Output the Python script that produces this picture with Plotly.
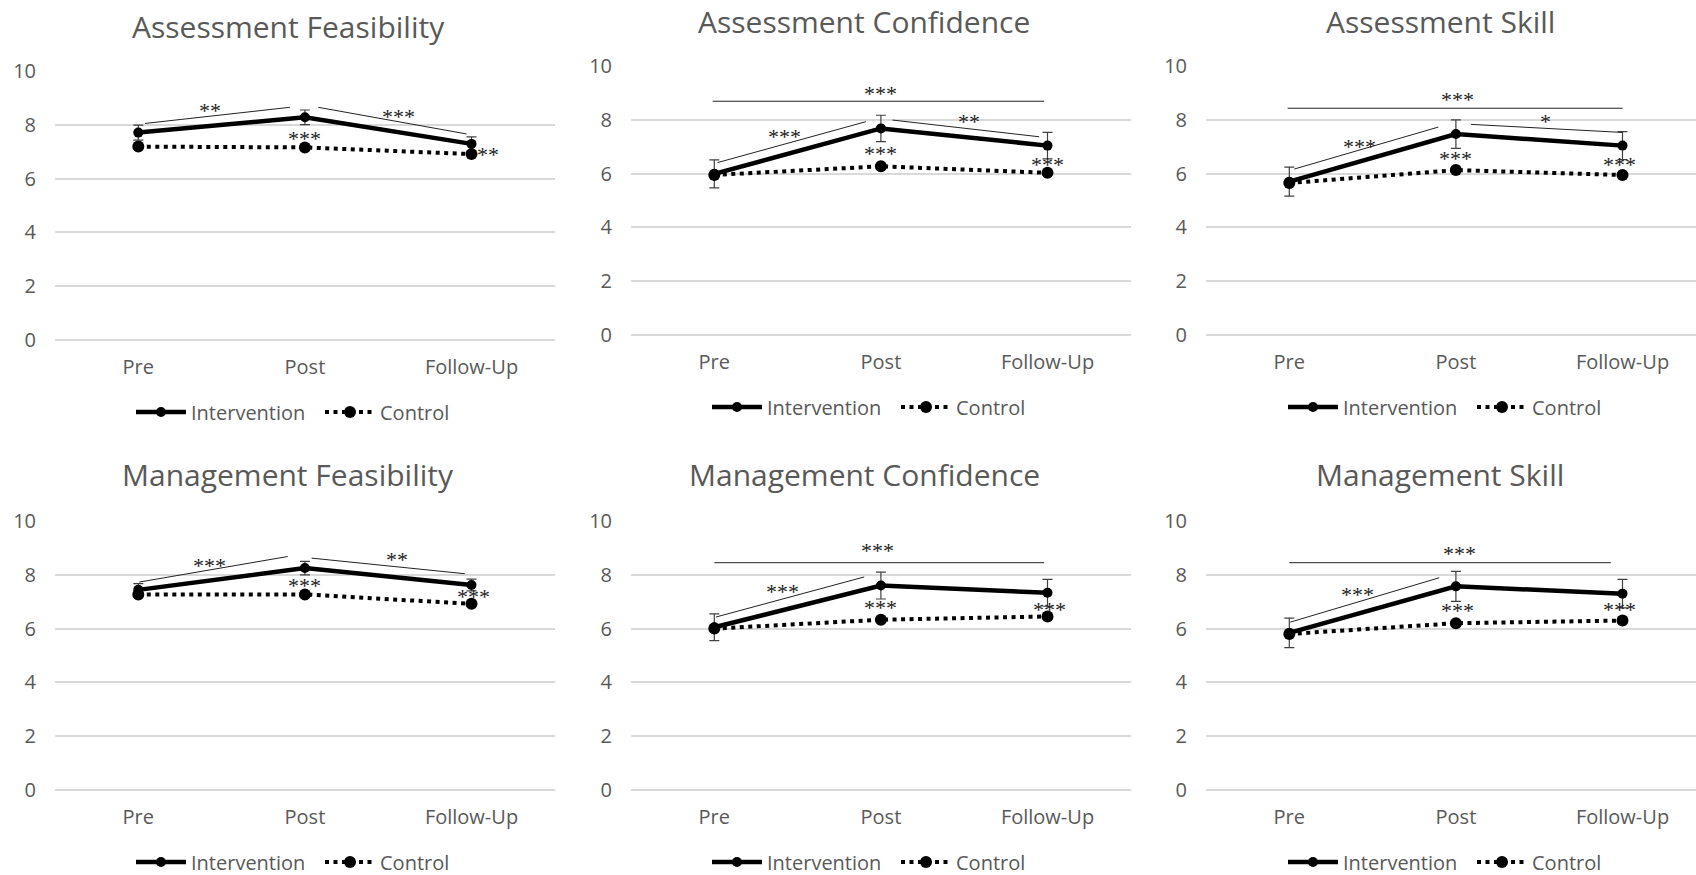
import plotly.graph_objects as go

timepoints = ["Pre", "Post", "Follow-Up"]
series_names = ["Intervention", "Control"]
titles = ["Assessment Feasibility", "Assessment Confidence", "Assessment Skill",
          "Management Feasibility", "Management Confidence", "Management Skill"]

# Group means on the 0-10 scale; intervention error bars are +/- values
af_int = [7.71, 8.28, 7.29]
af_err = [0.28, 0.27, 0.26]
af_ctl = [7.19, 7.16, 6.91]

ac_int = [5.99, 7.68, 7.04]
ac_err = [0.52, 0.49, 0.49]
ac_ctl = [5.95, 6.27, 6.03]

as_int = [5.70, 7.47, 7.04]
as_err = [0.54, 0.53, 0.52]
as_ctl = [5.65, 6.13, 5.95]

mf_int = [7.44, 8.25, 7.62]
mf_err = [0.23, 0.25, 0.22]
mf_ctl = [7.27, 7.27, 6.92]

mc_int = [6.05, 7.60, 7.33]
mc_err = [0.50, 0.50, 0.50]
mc_ctl = [6.00, 6.33, 6.45]

ms_int = [5.84, 7.57, 7.30]
ms_err = [0.55, 0.56, 0.53]
ms_ctl = [5.80, 6.20, 6.30]

# Significance connectors (x0, y0, x1, y1) in category / score units
af_links = [(0.04, 8.05, 0.91, 8.65), (1.08, 8.65, 1.97, 7.66)]
ac_links = [(-0.01, 8.69, 1.98, 8.69), (0.02, 6.41, 0.91, 7.93), (1.07, 7.99, 1.95, 7.37)]
as_links = [(-0.01, 8.43, 2.0, 8.43), (0.03, 6.17, 0.895, 7.73), (1.09, 7.83, 2.0, 7.53)]
mf_links = [(0.006, 7.73, 0.897, 8.68), (1.04, 8.62, 1.96, 8.04)]
mc_links = [(0.0, 8.45, 1.98, 8.45), (0.01, 6.43, 0.90, 7.92)]
ms_links = [(0.0, 8.45, 1.93, 8.45), (0.006, 6.24, 0.90, 7.89)]

# Significance stars (text, x, y)
af_stars = [("**", 0.43, 8.65), ("***", 1.56, 8.43), ("***", 1.0, 7.62), ("**", 2.10, 7.0)]
ac_stars = [("***", 1.0, 9.09), ("***", 0.42, 7.5), ("**", 1.53, 8.05), ("***", 1.0, 6.85), ("***", 2.0, 6.44)]
as_stars = [("***", 1.01, 8.88), ("***", 0.42, 7.13), ("*", 1.54, 8.05), ("***", 1.0, 6.67), ("***", 1.98, 6.44)]
mf_stars = [("***", 0.43, 8.47), ("**", 1.55, 8.68), ("***", 1.0, 7.73), ("***", 2.01, 7.3)]
mc_stars = [("***", 0.98, 9.0), ("***", 0.41, 7.48), ("***", 1.0, 6.9), ("***", 2.01, 6.82)]
ms_stars = [("***", 1.02, 8.91), ("***", 0.41, 7.39), ("***", 1.01, 6.8), ("***", 1.98, 6.82)]

panels = [
    (af_int, af_err, af_ctl, af_links, af_stars),
    (ac_int, ac_err, ac_ctl, ac_links, ac_stars),
    (as_int, as_err, as_ctl, as_links, as_stars),
    (mf_int, mf_err, mf_ctl, mf_links, mf_stars),
    (mc_int, mc_err, mc_ctl, mc_links, mc_stars),
    (ms_int, ms_err, ms_ctl, ms_links, ms_stars),
]

W, H = 1696, 875
FONT = "Open Sans"
GREY = "#595959"

# plot-area geometry in pixels: (left, right, y_of_0, y_of_10)
col_left = [55, 631, 1206]
row_y = [[(340, 71), (335, 66), (335, 66)], [(790, 521), (790, 521), (790, 521)]]
cat_step = 166.6
title_x = [288, 864, 1440]
title_y = [[27, 21, 21], [475, 475, 475]]
legend_left = [131, 707, 1283]
legend_y = [[412, 407, 407], [862, 862, 862]]

fig = go.Figure()
layout = dict(width=W, height=H, margin=dict(l=0, r=0, t=0, b=0, autoexpand=False),
              paper_bgcolor="white", plot_bgcolor="white",
              font=dict(family=FONT, color=GREY), showlegend=True)
annotations = []
shapes = []

for i, (iv, ie, cv, links, stars) in enumerate(panels):
    r, c = divmod(i, 3)
    n = i + 1
    xa = "x" if n == 1 else f"x{n}"
    ya = "y" if n == 1 else f"y{n}"
    lg = "legend" if n == 1 else f"legend{n}"
    left = col_left[c]
    right = min(left + 3 * cat_step, W)
    xmax = -0.5 + (right - left) / cat_step
    y0px, y10px = row_y[r][c]

    layout[f"xaxis{'' if n == 1 else n}"] = dict(
        domain=[left / W, right / W], range=[-0.5, xmax], anchor=ya,
        tickvals=[0, 1, 2], ticktext=timepoints, showgrid=False, zeroline=False,
        showline=False, ticks="", ticklabelstandoff=13,
        tickfont=dict(size=20, color=GREY, family=FONT), fixedrange=True)
    layout[f"yaxis{'' if n == 1 else n}"] = dict(
        domain=[1 - y0px / H, 1 - y10px / H], range=[0, 10], anchor=xa,
        tick0=0, dtick=2, showgrid=True, gridcolor="#d9d9d9", gridwidth=1.5,
        zeroline=True, zerolinecolor="#d9d9d9", zerolinewidth=1.5,
        showline=False, ticks="", ticklabelstandoff=18,
        tickfont=dict(size=20, color=GREY, family=FONT), fixedrange=True)

    fig.add_trace(go.Scatter(
        x=[0, 1, 2], y=iv, name=series_names[0], mode="lines+markers",
        line=dict(color="black", width=4.5),
        marker=dict(color="black", size=10),
        error_y=dict(type="data", array=ie, visible=True, color="#404040",
                     thickness=1.2, width=5),
        xaxis=xa, yaxis=ya, legend=lg, cliponaxis=False))
    fig.add_trace(go.Scatter(
        x=[0, 1, 2], y=cv, name=series_names[1], mode="lines+markers",
        line=dict(color="black", width=4, dash="4px,4.5px"),
        marker=dict(color="black", size=12),
        xaxis=xa, yaxis=ya, legend=lg, cliponaxis=False))

    for (x0, y0, x1, y1) in links:
        shapes.append(dict(type="line", xref=xa, yref=ya, x0=x0, y0=y0, x1=x1, y1=y1,
                           line=dict(color="#222222", width=1)))
    for (txt, tx, ty) in stars:
        annotations.append(dict(text=txt, x=tx, y=ty, xref=xa, yref=ya, showarrow=False,
                                xanchor="center", yanchor="middle", yshift=-3,
                                font=dict(family="Liberation Serif", size=22, color="#222222")))

    annotations.append(dict(text=titles[i], x=title_x[c] / W, y=1 - title_y[r][c] / H,
                            xref="paper", yref="paper", showarrow=False,
                            xanchor="center", yanchor="middle",
                            font=dict(family=FONT, size=30, color=GREY)))

    layout[lg] = dict(orientation="h", x=legend_left[c] / W, y=1 - legend_y[r][c] / H,
                      xanchor="left", yanchor="middle", bgcolor="rgba(0,0,0,0)",
                      font=dict(family=FONT, size=20, color=GREY),
                      itemwidth=50, entrywidth=124, tracegroupgap=0)

layout["annotations"] = annotations
layout["shapes"] = shapes
fig.update_layout(**layout)
fig.write_html("out.html")
